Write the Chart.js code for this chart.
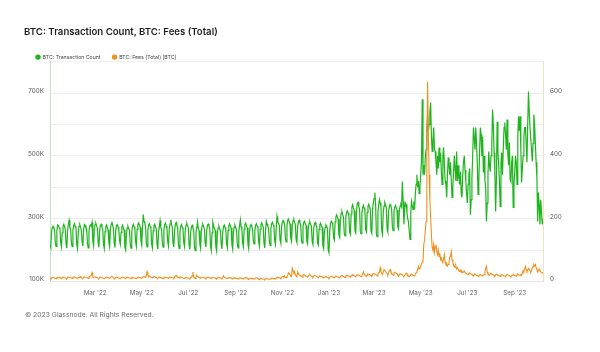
<!DOCTYPE html>
<html>
<head>
<meta charset="utf-8">
<script src="https://cdn.jsdelivr.net/npm/chart.js@4.4.0/dist/chart.umd.min.js"></script>
<style>
html,body{margin:0;padding:0;background:#fff;}
#wrap{position:relative;width:600px;height:352px;overflow:hidden;background:#fff;}
#title{position:absolute;left:24px;top:26px;font:600 9.6px Inter,"Noto Sans",sans-serif;color:#1d1d1d;line-height:11px;white-space:nowrap;}
#footer{position:absolute;left:25px;top:311px;font:400 6.8px Inter,"Noto Sans",sans-serif;color:#6f6f6f;line-height:8px;white-space:nowrap;}
canvas{position:absolute;left:0;top:0;}
</style>
</head>
<body>
<div id="wrap">
<canvas id="c" width="600" height="352"></canvas>
<div id="title">BTC: Transaction Count, BTC: Fees (Total)</div>
<div id="footer">© 2023 Glassnode. All Rights Reserved.</div>
</div>
<script>
// Daily series, first value = startDate, one value per day
const startDate = '2022-01-01';
const seriesNames = ['BTC: Transaction Count', 'BTC: Fees (Total) [BTC]'];

// Transaction count, thousands (one row = one week Sat..Fri)
const txCountK = [
216,208,258,272,276,270,263,
222,212,262,280,278,272,268,
225,210,255,275,282,276,265,
220,206,260,283,295,271,266,
224,211,264,278,284,275,270,
218,204,258,276,281,273,262,
226,213,266,282,279,270,268,
221,207,261,277,280,276,288,
228,214,268,281,285,277,270,
223,209,263,279,282,274,267,
219,205,259,275,280,272,265,
225,211,265,283,291,278,269,
222,208,262,278,281,274,266,
230,218,256,274,279,270,263,
210,200,252,270,276,269,262,
220,206,260,276,282,275,268,
226,212,266,282,287,279,272,
229,216,270,313,292,286,275,
224,210,264,280,284,276,270,
220,207,261,279,283,274,268,
218,203,258,274,294,272,264,
223,209,263,281,286,277,269,
226,213,267,283,297,281,273,
222,210,262,282,288,279,271,
219,205,259,276,281,273,266,
224,211,265,280,285,277,270,
215,202,256,273,279,271,264,
212,198,254,271,290,270,262,
220,206,260,277,282,275,267,
223,210,263,279,283,276,269,
214,199,255,289,278,270,263,
210,197,253,270,276,268,261,
218,204,258,275,280,273,266,
222,208,262,279,284,276,270,
217,203,257,274,279,271,265,
221,207,261,277,296,275,268,
224,211,265,281,286,278,271,
219,205,259,276,281,274,267,
230,220,263,279,284,277,270,
226,213,266,282,287,280,273,
221,207,262,292,283,276,269,
228,215,268,284,289,281,275,
230,218,272,307,290,286,279,
232,222,275,289,294,287,281,
236,226,278,296,299,290,284,
238,228,280,293,297,288,283,
233,224,276,290,295,286,280,
231,222,274,288,292,284,278,
228,220,271,285,290,282,276,
226,218,269,284,288,280,274,
224,216,266,281,286,278,272,
215,205,258,272,280,276,268,
200,192,262,285,292,288,281,
240,232,290,305,312,306,298,
248,240,298,318,322,312,305,
252,245,305,320,325,318,310,
258,250,315,338,345,335,326,
262,255,322,348,352,340,330,
258,252,318,335,342,334,325,
265,258,320,340,346,338,330,
262,254,330,350,365,383,345,
250,243,318,345,361,350,338,
262,250,320,340,352,345,335,
268,258,325,338,345,339,330,
272,262,322,336,342,335,328,
275,268,325,340,345,338,418,
355,282,330,350,345,320,300,
290,260,234,320,355,340,330,
355,330,380,410,440,400,420,
380,400,440,482,680,440,470,
440,495,520,590,632,578,600,
640,670,560,514,550,590,520,
514,480,440,500,460,527,480,
510,450,409,500,527,470,420,
409,368,440,495,470,440,480,
420,368,400,450,500,460,420,
514,420,470,430,409,450,380,
368,440,480,500,455,420,380,
350,410,440,460,313,360,430,
500,590,560,520,590,540,480,
377,420,510,590,568,500,560,
447,500,420,400,291,350,440,
514,470,450,500,540,648,600,
510,450,323,420,609,514,470,
418,339,480,511,440,520,590,
606,568,520,616,505,470,543,
425,418,480,500,336,409,450,
500,480,409,560,626,580,626,
520,415,463,500,560,590,590,
540,480,600,705,640,590,590,
520,482,540,632,600,540,480,
431,291,383,345,282,360,323,
282,300
];

// Total fees, BTC per day
const feesBTC = [
9,8,11,12,13,12,11,
10,9,12,13,12,14,12,
11,9,12,14,13,12,11,
10,9,13,15,14,13,12,
11,10,13,14,15,13,12,
10,9,12,13,14,16,13,
11,10,13,15,14,13,12,
12,10,14,16,18,20,28,
16,12,14,15,14,13,12,
10,9,12,14,13,12,11,
10,9,12,13,14,13,12,
11,10,13,15,16,14,13,
10,9,12,14,13,12,11,
10,9,12,13,14,13,12,
11,9,12,14,13,12,11,
10,9,12,13,12,11,11,
10,9,11,13,14,13,12,
11,10,13,15,16,14,13,
18,31,22,16,18,15,14,
13,11,14,16,15,14,13,
11,10,13,14,13,12,12,
10,9,12,13,14,13,12,
11,10,13,15,14,13,12,
12,10,14,18,20,16,14,
13,11,14,15,14,13,12,
10,9,12,13,12,11,11,
10,9,12,14,18,30,14,
12,10,14,20,16,14,13,
11,10,13,14,13,12,12,
10,9,12,13,14,13,12,
10,9,12,13,12,12,11,
9,8,11,12,13,12,11,
10,9,12,18,14,12,11,
10,9,11,12,13,12,11,
9,8,10,12,11,10,10,
9,8,10,11,12,11,10,
9,8,11,12,13,12,11,
8,7,10,11,10,9,9,
9,8,10,11,12,11,10,
8,6,9,10,9,8,8,
7,6,9,10,9,8,8,
8,7,9,11,10,9,9,
9,8,11,12,14,13,12,
11,10,13,15,16,14,18,
14,12,16,20,28,25,22,
18,16,43,35,28,31,24,
18,15,31,25,22,20,18,
17,14,20,22,20,18,17,
16,14,18,20,22,19,17,
15,13,17,19,18,17,16,
14,12,16,18,17,16,15,
13,11,14,15,16,14,13,
12,10,14,16,17,15,14,
13,12,15,17,16,15,14,
14,12,16,18,19,17,16,
15,13,17,19,20,18,17,
16,14,18,20,22,19,18,
17,15,19,22,21,20,18,
17,15,20,24,31,23,20,
18,16,21,24,23,22,20,
19,17,22,26,25,24,22,
20,18,24,28,30,44,30,
26,22,30,38,35,32,28,
24,21,28,34,38,30,26,
22,20,26,30,28,26,24,
20,17,22,25,24,22,21,
18,16,20,23,27,22,20,
17,15,19,22,24,21,20,
20,18,24,28,32,38,48,
40,42,48,55,62,64,118,
130,160,191,400,636,480,340,
260,204,150,108,100,118,92,
111,118,95,86,100,80,90,
70,75,65,60,72,86,62,
55,58,50,54,60,78,80,
95,70,60,54,48,45,50,
40,44,38,35,32,36,30,
33,28,30,34,29,27,25,
24,22,26,28,25,24,22,
20,18,22,24,21,20,19,
18,17,20,22,21,19,18,
20,22,30,42,48,30,24,
22,20,24,26,24,22,21,
19,17,21,24,22,20,19,
18,16,20,22,21,19,18,
17,15,19,23,21,20,18,
17,15,18,21,20,22,19,
18,16,20,24,22,21,20,
22,20,28,35,32,40,48,
38,32,36,42,38,34,30,
36,42,48,54,50,54,44,
38,30,34,40,36,32,28,
26,29
];

const tickDates = ['2022-03-01','2022-05-01','2022-07-01','2022-09-01','2022-11-01','2023-01-01','2023-03-01','2023-05-01','2023-07-01','2023-09-01'];
const tickLabels = ["Mar '22","May '22","Jul '22","Sep '22","Nov '22","Jan '23","Mar '23","May '23","Jul '23","Sep '23"];
const leftTickLabels = [100, 300, 500, 700];   // thousands
const rightTickLabels = [0, 200, 400, 600];    // BTC

const dayOf = d => Math.round((Date.parse(d) - Date.parse(startDate)) / 86400000);
const tickDays = tickDates.map(dayOf);

const FONT = 'Inter, "Noto Sans", sans-serif';
const GREEN = '#1cb51c';
const ORANGE = '#f0901c';

const legendNudge = {
  id: 'legendNudge',
  afterLayout(chart) {
    const l = chart.legend;
    if (l) { l.top += 8; l.bottom += 8; }
  }
};

new Chart(document.getElementById('c'), {
  type: 'line',
  data: {
    datasets: [
      {
        label: seriesNames[0],
        data: txCountK.map((v, i) => ({x: i, y: v})),
        yAxisID: 'yL',
        borderColor: GREEN,
        backgroundColor: GREEN,
        borderWidth: 1.2,
        pointRadius: 0,
        tension: 0,
        order: 2
      },
      {
        label: seriesNames[1],
        data: feesBTC.map((v, i) => ({x: i, y: v})),
        yAxisID: 'yR',
        borderColor: ORANGE,
        backgroundColor: ORANGE,
        borderWidth: 1.1,
        pointRadius: 0,
        tension: 0,
        order: 1
      }
    ]
  },
  plugins: [legendNudge],
  options: {
    responsive: false,
    animation: false,
    devicePixelRatio: 1,
    layout: { autoPadding: false, padding: { left: 24, right: 27, top: 34.5, bottom: 54.5 } },
    plugins: {
      tooltip: { enabled: false },
      title: { display: false },
      legend: {
        display: true,
        position: 'top',
        align: 'start',
        labels: {
          usePointStyle: true,
          pointStyle: 'circle',
          boxWidth: 4,
          boxHeight: 3,
          padding: 12,
          color: '#444',
          font: { size: 5.2, family: FONT },
          sort: (a, b) => a.datasetIndex - b.datasetIndex
        }
      }
    },
    scales: {
      x: {
        type: 'linear',
        min: 0,
        max: txCountK.length - 1,
        afterBuildTicks: s => { s.ticks = tickDays.map(v => ({value: v})); },
        afterFit: s => { s.height = 16; },
        ticks: {
          autoSkip: false,
          maxRotation: 0,
          padding: 8,
          color: '#666',
          font: { size: 6.3, family: FONT },
          callback: v => { const k = tickDays.indexOf(v); return k >= 0 ? tickLabels[k] : ''; }
        },
        grid: { display: false, drawTicks: false },
        border: { display: true, color: '#e8e8e8', width: 1 }
      },
      yL: {
        position: 'left',
        min: 100,
        max: 800,
        afterFit: s => { s.width = 26; },
        ticks: {
          stepSize: 100,
          padding: 6,
          labelOffset: -2,
          color: '#555',
          font: { size: 6.3, family: FONT },
          callback: v => leftTickLabels.includes(v) ? v + 'K' : ''
        },
        grid: { color: '#efefef', drawTicks: false, lineWidth: 1 },
        border: { display: true, color: '#bfe6bf', width: 1 }
      },
      yR: {
        position: 'right',
        min: 0,
        max: 700,
        afterFit: s => { s.width = 30; },
        ticks: {
          stepSize: 100,
          padding: 7,
          labelOffset: -2,
          color: '#555',
          font: { size: 6.3, family: FONT },
          callback: v => rightTickLabels.includes(v) ? String(v) : ''
        },
        grid: { drawOnChartArea: false, drawTicks: false },
        border: { display: true, color: '#f5dfbd', width: 1 }
      }
    }
  }
});
</script>
</body>
</html>
